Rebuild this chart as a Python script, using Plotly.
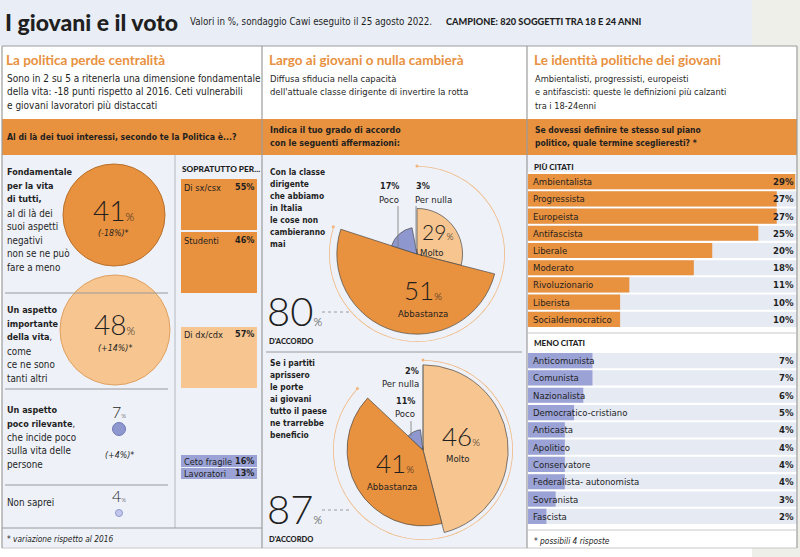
import plotly.graph_objects as go
import numpy as np

# ---------------- DATA ----------------
politica_labels = ["Fondamentale per la vita di tutti", "Un aspetto importante della vita",
                   "Un aspetto poco rilevante", "Non saprei"]
politica_values = [41, 48, 7, 4]
politica_change = ["-18%", "+14%", "+4%", None]

soprattutto_labels = ["Di sx/csx", "Studenti", "Di dx/cdx", "Ceto fragile", "Lavoratori"]
soprattutto_values = [55, 46, 57, 16, 13]

accordo_labels = ["Molto", "Abbastanza", "Poco", "Per nulla"]
classe_values = [29, 51, 17, 3]          # "le cose non cambieranno mai"
partiti_values = [46, 41, 11, 2]         # "tutto il paese ne trarrebbe beneficio"
classe_accordo = 80
partiti_accordo = 87

piu_labels = ["Ambientalista", "Progressista", "Europeista", "Antifascista", "Liberale",
              "Moderato", "Rivoluzionario", "Liberista", "Socialdemocratico"]
piu_values = [29, 27, 27, 25, 20, 18, 11, 10, 10]
meno_labels = ["Anticomunista", "Comunista", "Nazionalista", "Democratico-cristiano", "Anticasta",
               "Apolitico", "Conservatore", "Federalista- autonomista", "Sovranista", "Fascista"]
meno_values = [7, 7, 6, 5, 4, 4, 4, 4, 3, 2]

# ---------------- STYLE ----------------
W, H = 800, 557
FONT = "Liberation Sans Narrow, DejaVu Sans Condensed, Lato"
TFONT = "Lato"
DARK = "#1f1f1f"
ORANGE = "#e8913e"
LORANGE = "#f6c590"
BLUE = "#8e98cf"
LBLUE = "#c3c8ea"
BARBLUE = "#9ba3d6"
PANEL = "#eef1f7"
ROWBG = "#e5eaf3"
HEADER = "#e9eef6"
BORDER = "#9c9c9c"


def X(p):
    return p / W


def Y(p):
    return 1 - p / H


shapes = []
ann = []


def rect(x0, y0, x1, y1, fill, line=None, lw=0, layer="below"):
    shapes.append(dict(type="rect", xref="paper", yref="paper", x0=X(x0), x1=X(x1), y0=Y(y1), y1=Y(y0),
                       fillcolor=fill, line=dict(color=line or fill, width=lw), layer=layer))


def hline(x0, x1, y, color=BORDER, w=1, dash=None, layer="above"):
    shapes.append(dict(type="line", xref="paper", yref="paper", x0=X(x0), x1=X(x1), y0=Y(y), y1=Y(y),
                       line=dict(color=color, width=w, dash=dash), layer=layer))


def vline(x, y0, y1, color=BORDER, w=1, layer="above"):
    shapes.append(dict(type="line", xref="paper", yref="paper", x0=X(x), x1=X(x), y0=Y(y0), y1=Y(y1),
                       line=dict(color=color, width=w), layer=layer))


def text(x, y, s, size=10.5, color=DARK, xanchor="left", family=FONT, weight="normal", style="normal"):
    ann.append(dict(x=X(x), y=Y(y), xref="paper", yref="paper", text=s, showarrow=False,
                    xanchor=xanchor, yanchor="middle",
                    font=dict(size=size, color=color, family=family, weight=weight, style=style)))


def lines(x, y0, step, items, **kw):
    for i, s in enumerate(items):
        text(x, y0 + i * step, s, **kw)


# ---------------- BACKGROUNDS / FRAME ----------------
rect(0, 0, 752, 46, HEADER)
rect(752, 0, 800, 557, "#efefe9")
rect(2, 46, 797, 548, "white")
rect(2, 155, 527, 548, PANEL)
rect(527, 155, 797, 172, PANEL)
rect(2, 119, 797, 155, ORANGE)

hline(2, 797, 46, w=1.2)
hline(2, 797, 548, color="#c8c8c8", w=1)
for xv in (2, 262, 527, 797):
    vline(xv, 46, 548, w=1.2)
vline(175, 155, 528, color="#b5b8c0")
hline(5, 168, 293, color="#9a9a9a")
hline(5, 168, 389, color="#9a9a9a")
hline(5, 168, 485, color="#9a9a9a")
hline(2, 262, 528, color="#9a9a9a")
hline(266, 522, 352, color="#9a9a9a")
hline(527, 797, 333, color="#c8c8c8")
hline(527, 797, 530, color="#c8c8c8")

# ---------------- HEADER TEXT ----------------
text(3, 22, "I giovani e il voto", size=23, family=TFONT, weight=900)
text(188, 21, "Valori in %, sondaggio Cawi eseguito il 25 agosto 2022.", size=9.7)
text(444, 21, "CAMPIONE: 820 SOGGETTI TRA 18 E 24 ANNI", size=9.2, family=TFONT, weight=900)

text(4, 60, "La politica perde centralità", size=13.5, color=ORANGE, family=TFONT, weight="bold")
text(267, 60, "Largo ai giovani o nulla cambierà", size=13.5, color=ORANGE, family=TFONT, weight="bold")
text(532, 60, "Le identità politiche dei giovani", size=13.5, color=ORANGE, family=TFONT, weight="bold")

lines(5, 78, 13.8, ["Sono in 2 su 5 a ritenerla una dimensione fondamentale",
                    "della vita: -18 punti rispetto al 2016. Ceti vulnerabili",
                    "e giovani lavoratori più distaccati"], size=10)
lines(268, 78, 13.8, ["Diffusa sfiducia nella capacità",
                      "dell'attuale classe dirigente di invertire la rotta"], size=9.4)
lines(533, 78, 13.8, ["Ambientalisti, progressisti, europeisti",
                      "e antifascisti: queste le definizioni più calzanti",
                      "tra i 18-24enni"], size=9.2)

text(5, 137, "<b>Al di là dei tuoi interessi, secondo te la Politica è...?</b>", size=8.7)
lines(268, 130, 13, ["<b>Indica il tuo grado di accordo</b>", "<b>con le seguenti affermazioni:</b>"], size=8.8)
lines(533, 130, 13, ["<b>Se dovessi definire te stesso sul piano</b>",
                     "<b>politico, quale termine sceglieresti? *</b>"], size=8.5)

# ---------------- LEFT PANEL ----------------
B = 9.0
lines(5, 172, 13.6, ["<b>Fondamentale</b>", "<b>per la vita</b>", "<b>di tutti,</b>"], size=B)
lines(5, 213, 13.6, ["al di là dei", "suoi aspetti", "negativi", "non se ne può", "fare a meno"], size=9.8)
lines(5, 310, 13.6, ["<b>Un aspetto</b>", "<b>importante</b>", "<b>della vita</b>,"], size=B)
lines(5, 351, 13.6, ["come", "ce ne sono", "tanti altri"], size=9.8)
lines(5, 410, 13.6, ["<b>Un aspetto</b>", "<b>poco rilevante</b>,"], size=B)
lines(5, 437, 13.6, ["che incide poco", "sulla vita delle", "persone"], size=9.8)
text(5, 502, "Non saprei", size=9.8)
text(5, 539, "<i>* variazione rispetto al 2016</i>", size=8.3)

left_x = [114, 115, 119, 119]
left_y = [215, 330, 429, 513]
left_d = [102, 110, 13, 7]
left_fill = [ORANGE, LORANGE, BLUE, LBLUE]
left_line = ["#b8702c", "#e0a060", "#6f79b3", "#8e98cf"]

num_y = [210, 324, 411, 495]
chg_y = [233, 348, 455, None]
num_size = [28, 28, 16, 16]
for i, v in enumerate(politica_values):
    text(left_x[i], num_y[i], f"{v}<span style='font-size:{int(num_size[i]*0.42)}px'>%</span>",
         size=num_size[i], xanchor="center", family=TFONT, weight=300)
    if politica_change[i]:
        text(left_x[i], chg_y[i], f"<i>({politica_change[i]})*</i>", size=8.8, xanchor="center")

text(180, 169, "SOPRATUTTO PER...", size=8.3, family=TFONT, weight=900)
sop_box = [(179, 230), (232, 293), (327, 388), (455, 467), (468, 479)]
sop_fill = [ORANGE, ORANGE, LORANGE, BARBLUE, BARBLUE]
sop_ty = [187, 240, 334, 461, 473]
for i, lab in enumerate(soprattutto_labels):
    rect(181, sop_box[i][0], 257, sop_box[i][1], sop_fill[i])
    text(182, sop_ty[i], lab, size=9.2)
    text(256, sop_ty[i], f"<b>{soprattutto_values[i]}%</b>", size=9, xanchor="right")

# ---------------- MIDDLE PANEL ----------------
lines(268, 172, 12, ["<b>Con la classe</b>", "<b>dirigente</b>", "<b>che abbiamo</b>", "<b>in Italia</b>",
                     "<b>le cose non</b>", "<b>cambieranno</b>", "<b>mai</b>"], size=8.4)
lines(268, 363, 12, ["<b>Se i partiti</b>", "<b>aprissero</b>", "<b>le porte</b>", "<b>ai giovani</b>",
                     "<b>tutto il paese</b>", "<b>ne trarrebbe</b>", "<b>beneficio</b>"], size=8.4)

# pie 1 labels
text(437, 232, f"{classe_values[0]}<span style='font-size:9px'>%</span>", size=21, xanchor="center",
     family=TFONT, weight=300)
text(432, 252, accordo_labels[0], size=9.5, xanchor="center")
text(423, 290, f"{classe_values[1]}<span style='font-size:10px'>%</span>", size=26, xanchor="center",
     family=TFONT, weight=300)
text(423, 313, accordo_labels[1], size=9.5, xanchor="center")
text(389, 186, f"<b>{classe_values[2]}%</b>", size=9, xanchor="center")
text(389, 199, accordo_labels[2], size=9.5, xanchor="center")
text(414, 186, f"<b>{classe_values[3]}%</b>", size=9, xanchor="left")
text(413, 199, accordo_labels[3], size=9.5, xanchor="left")
vline(398, 206, 247, color="#7a7a7a", w=0.8)
vline(416, 206, 247, color="#7a7a7a", w=0.8)

# pie 2 labels
text(461, 436, f"{partiti_values[0]}<span style='font-size:10px'>%</span>", size=26, xanchor="center",
     family=TFONT, weight=300)
text(458, 458, accordo_labels[0], size=9.5, xanchor="center")
text(395, 463, f"{partiti_values[1]}<span style='font-size:10px'>%</span>", size=26, xanchor="center",
     family=TFONT, weight=300)
text(392, 486, accordo_labels[1], size=9.5, xanchor="center")
text(421, 371, f"<b>{partiti_values[3]}%</b>", size=9, xanchor="right")
text(421, 383, accordo_labels[3], size=9.5, xanchor="right")
text(417, 401, f"<b>{partiti_values[2]}%</b>", size=9, xanchor="right")
text(417, 413, accordo_labels[2], size=9.5, xanchor="right")
vline(423, 365, 447, color="#7a7a7a", w=0.8)
vline(411, 421, 436, color="#7a7a7a", w=0.8)

# big "d'accordo" numbers
text(265, 311, f"{classe_accordo}<span style='font-size:11px'>%</span>", size=40, family=TFONT, weight=300)
text(267, 341, "D'ACCORDO", size=7.5, family=TFONT, weight=900)
hline(322, 352, 312, color="#888", w=0.8, dash="dot")
text(265, 509, f"{partiti_accordo}<span style='font-size:11px'>%</span>", size=40, family=TFONT, weight=300)
text(267, 539, "D'ACCORDO", size=7.5, family=TFONT, weight=900)
hline(322, 350, 510, color="#888", w=0.8, dash="dot")

# ---------------- RIGHT PANEL ----------------
text(532, 167, "PIÙ CITATI", size=8, family=TFONT, weight=900)
text(532, 343, "MENO CITATI", size=8, family=TFONT, weight=900)
text(532, 541, "<i>* possibili 4 risposte</i>", size=8.3)

fig = go.Figure()

# left bubbles (pixel-space axis)
fig.add_trace(go.Scatter(x=left_x, y=left_y, mode="markers", xaxis="x", yaxis="y", hoverinfo="skip",
                         text=politica_labels,
                         marker=dict(size=left_d, color=left_fill, line=dict(color=left_line, width=1),
                                     opacity=1), showlegend=False))


# pies (radius and angle both proportional to value)
def pie_traces(values, accordo, polar, rmax):
    th, start = [], 0.0
    for v in values:
        th.append(start + v * 3.6 / 2)
        start += v * 3.6
    traces = [go.Barpolar(r=values, theta=th, width=[v * 3.6 for v in values], subplot=polar,
                          marker=dict(color=[LORANGE, ORANGE, BLUE, LBLUE], line=dict(color="#4a4a4a", width=0.7)),
                          hoverinfo="skip", showlegend=False)]
    arc_t = np.linspace(0, accordo * 3.6, 200)
    traces.append(go.Scatterpolar(r=[rmax] * len(arc_t), theta=arc_t, mode="lines", subplot=polar,
                                  line=dict(color="#f1b57c", width=1.6), hoverinfo="skip", showlegend=False))
    traces.append(go.Scatterpolar(r=[rmax, rmax], theta=[0, accordo * 3.6], mode="markers", subplot=polar,
                                  marker=dict(symbol="circle", size=3, color="#f1b57c"),
                                  hoverinfo="skip", showlegend=False))
    return traces


R1, R2 = 56, 48.6
for t in pie_traces(classe_values, classe_accordo, "polar", R1):
    fig.add_trace(t)
for t in pie_traces(partiti_values, partiti_accordo, "polar2", R2):
    fig.add_trace(t)

# bars
fig.add_trace(go.Bar(y=piu_labels, x=piu_values, orientation="h", xaxis="x2", yaxis="y2", width=0.88,
                     marker=dict(color=ORANGE, line=dict(width=0)), hoverinfo="skip", showlegend=False))
fig.add_trace(go.Bar(y=meno_labels, x=meno_values, orientation="h", xaxis="x3", yaxis="y3", width=0.88,
                     marker=dict(color=BARBLUE, line=dict(width=0)), hoverinfo="skip", showlegend=False))

for lab_list, val_list, xr, yr in ((piu_labels, piu_values, "x2", "y2"), (meno_labels, meno_values, "x3", "y3")):
    for i, (lab, v) in enumerate(zip(lab_list, val_list)):
        shapes.append(dict(type="rect", xref=f"{xr} domain", yref=yr, x0=0, x1=1, y0=i - 0.44, y1=i + 0.44,
                           fillcolor=ROWBG, line=dict(width=0), layer="below"))
        ann.append(dict(x=0.012, y=lab, xref=f"{xr} domain", yref=yr, text=lab, showarrow=False,
                        xanchor="left", yanchor="middle", font=dict(size=9.5, color=DARK, family=FONT)))
        ann.append(dict(x=0.995, y=lab, xref=f"{xr} domain", yref=yr, text=f"<b>{v}%</b>", showarrow=False,
                        xanchor="right", yanchor="middle", font=dict(size=9.5, color=DARK, family=FONT)))

hidden = dict(visible=False, showgrid=False, zeroline=False, fixedrange=True)
fig.update_layout(
    width=W, height=H, margin=dict(l=0, r=0, t=0, b=0),
    paper_bgcolor="white", plot_bgcolor="rgba(0,0,0,0)",
    xaxis=dict(domain=[0, X(262)], range=[0, 262], **hidden),
    yaxis=dict(domain=[Y(548), Y(155)], range=[548, 155], **hidden),
    xaxis2=dict(domain=[X(528), X(797)], range=[0, 29.2], anchor="y2", **hidden),
    yaxis2=dict(domain=[Y(328), Y(173)], type="category", range=[len(piu_labels) - 0.5, -0.5],
                anchor="x2", **hidden),
    xaxis3=dict(domain=[X(528), X(797)], range=[0, 29.2], anchor="y3", **hidden),
    yaxis3=dict(domain=[Y(525), Y(352)], type="category", range=[len(meno_labels) - 0.5, -0.5],
                anchor="x3", **hidden),
    polar=dict(domain=dict(x=[X(417 - 88), X(417 + 88)], y=[Y(254 + 88), Y(254 - 88)]),
               bgcolor="rgba(0,0,0,0)",
               radialaxis=dict(range=[0, R1], visible=False),
               angularaxis=dict(direction="clockwise", rotation=90, visible=False)),
    polar2=dict(domain=dict(x=[X(423 - 90), X(423 + 90)], y=[Y(450 + 90), Y(450 - 90)]),
                bgcolor="rgba(0,0,0,0)",
                radialaxis=dict(range=[0, R2], visible=False),
                angularaxis=dict(direction="clockwise", rotation=90, visible=False)),
    shapes=shapes, annotations=ann, bargap=0.1,
)
fig.write_html("out.html", config={"displayModeBar": False},
               post_script="document.body.style.margin='0';document.body.style.overflow='hidden';")
